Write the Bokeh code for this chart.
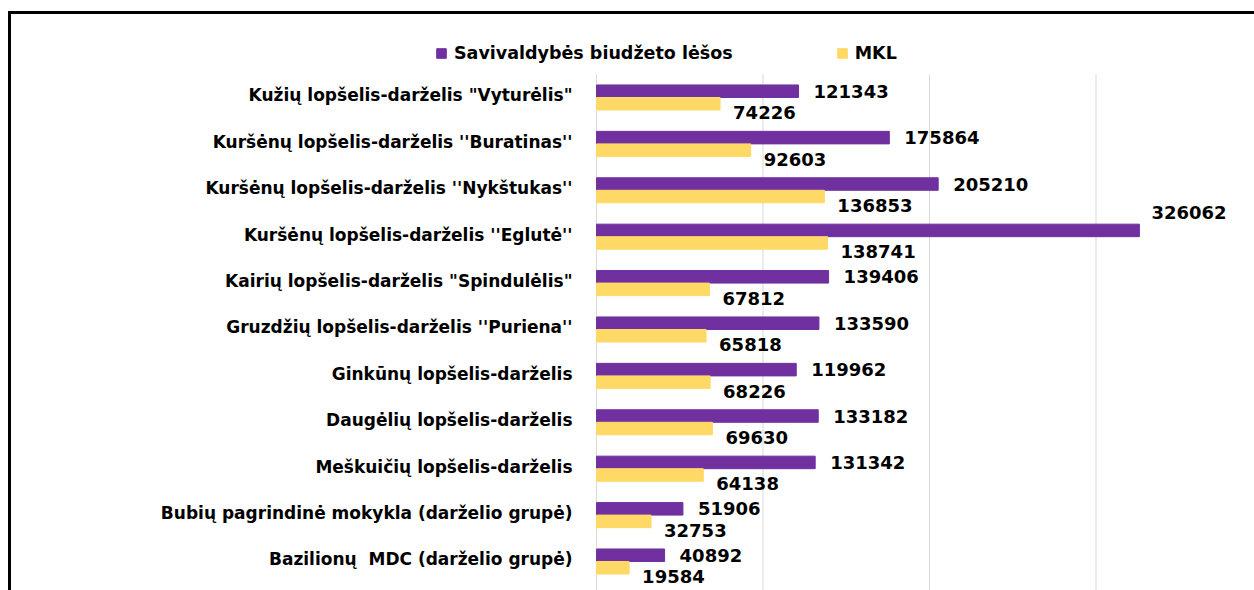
from bokeh.plotting import figure
from bokeh.models import Range1d, ColumnDataSource, Legend, LegendItem, CDSView, IndexFilter
from bokeh.core.properties import value
from bokeh.embed import file_html
from bokeh.resources import INLINE

categories = [
    'Kužių lopšelis-darželis "Vyturėlis"',
    "Kuršėnų lopšelis-darželis ''Buratinas''",
    "Kuršėnų lopšelis-darželis ''Nykštukas''",
    "Kuršėnų lopšelis-darželis ''Eglutė''",
    'Kairių lopšelis-darželis "Spindulėlis"',
    "Gruzdžių lopšelis-darželis ''Puriena''",
    "Ginkūnų lopšelis-darželis",
    "Daugėlių lopšelis-darželis",
    "Meškuičių lopšelis-darželis",
    "Bubių pagrindinė mokykla (darželio grupė)",
    "Bazilionų  MDC (darželio grupė)",
]
savivaldybes = [121343, 175864, 205210, 326062, 139406, 133590, 119962, 133182, 131342, 51906, 40892]
mkl = [74226, 92603, 136853, 138741, 67812, 65818, 68226, 69630, 64138, 32753, 19584]
series_names = ["Savivaldybės biudžeto lėšos", "MKL"]
grid_ticks = [0, 100000, 200000, 300000]

PURPLE = "#7030A0"
YELLOW = "#FFD966"
GRID = "#d9d9d9"
FONT = "DejaVu Sans"

idx = list(range(len(categories)))
BAR_H = 0.27
Y_BOTTOM, Y_TOP = 10.625, -2.09
BAND_TOP = -0.5

src = ColumnDataSource(dict(
    pos=idx,
    cat=[c.replace("  ", "\u00a0 ") for c in categories],  # keep double spaces visible in SVG
    zero=[0] * len(idx),
    pos_s=[i - BAR_H / 2 for i in idx],
    pos_m=[i + BAR_H / 2 for i in idx],
    sav=savivaldybes,
    mkl=mkl,
    sav_txt=[str(v) for v in savivaldybes],
    mkl_txt=[str(v) for v in mkl],
))
grid_src = ColumnDataSource(dict(x=grid_ticks,
                                 y0=[BAND_TOP] * len(grid_ticks),
                                 y1=[Y_BOTTOM] * len(grid_ticks)))

p = figure(width=1254, height=590, output_backend="svg", toolbar_location=None,
           x_range=Range1d(-357958, 395195), y_range=Range1d(Y_BOTTOM, Y_TOP),
           min_border=0, min_border_left=0, min_border_top=0,
           min_border_right=0, min_border_bottom=0)
p.styles = {"background": "linear-gradient(black, black) 8px 11px / 100% 3px no-repeat, "
                          "linear-gradient(black, black) 8px 11px / 3px 100% no-repeat"}
p.outline_line_color = None
p.background_fill_color = None
p.border_fill_color = None
p.xaxis.visible = False
p.yaxis.visible = False
p.grid.visible = False

# gridlines (value axis) and category axis line
p.segment(x0="x", y0="y0", x1="x", y1="y1", source=grid_src, line_color=GRID, line_width=1)

r1 = p.hbar(y="pos_s", right="sav", left=0, height=BAR_H, source=src,
            fill_color=PURPLE, line_color=PURPLE)
r2 = p.hbar(y="pos_m", right="mkl", left=0, height=BAR_H, source=src,
            fill_color=YELLOW, line_color=YELLOW)

# category labels (category axis)
p.text(x="zero", y="pos", text="cat", source=src, x_offset=-24, y_offset=-2,
       text_font=value(FONT), text_font_style="bold", text_font_size="17px",
       text_color="black", text_baseline="middle", text_align="right")

normal = CDSView(filter=IndexFilter([i for i in idx if i != 3]))
special = CDSView(filter=IndexFilter([3]))
common = dict(text_font=value(FONT), text_font_style="bold", text_font_size="18px",
              text_color="black", text_baseline="middle", text_align="left")
p.text(x="sav", y="pos_s", text="sav_txt", source=src, view=normal, x_offset=15, y_offset=0, **common)
p.text(x="sav", y="pos_s", text="sav_txt", source=src, view=special, x_offset=12, y_offset=-18, **common)
p.text(x="mkl", y="pos_m", text="mkl_txt", source=src, x_offset=13, y_offset=9, **common)

legend = Legend(items=[LegendItem(label=series_names[0], renderers=[r1]),
                       LegendItem(label=series_names[1], renderers=[r2])],
                orientation="horizontal", location=(435, 526),
                glyph_width=12, glyph_height=12, label_standoff=7, spacing=103,
                padding=0, margin=0, border_line_color=None, background_fill_alpha=0,
                label_text_font=FONT, label_text_font_style="bold", label_text_font_size="17.5px",
                label_text_color="black", label_height=22)
p.add_layout(legend, "center")

open("out.html", "w").write(file_html(p, INLINE))
